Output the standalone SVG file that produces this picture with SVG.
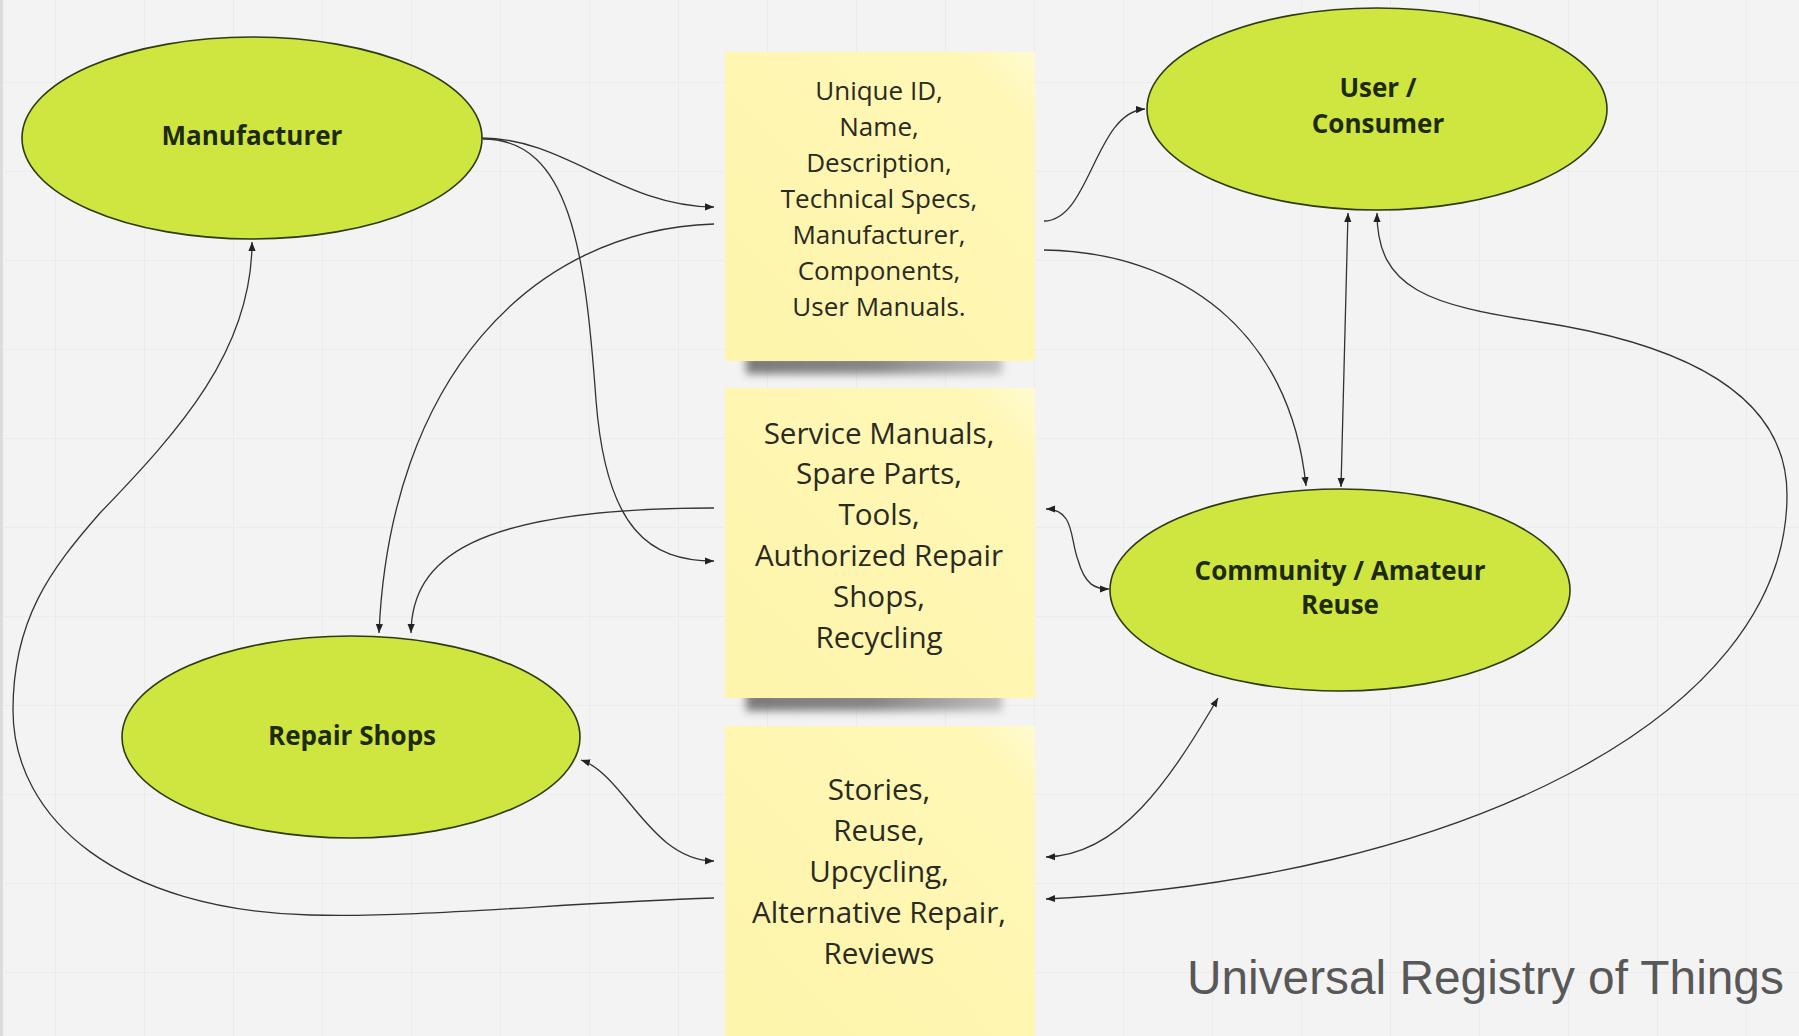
<svg xmlns="http://www.w3.org/2000/svg" width="1799" height="1036" viewBox="0 0 1799 1036">
<defs>
<pattern id="grid" x="55" y="82" width="89" height="89" patternUnits="userSpaceOnUse">
<path d="M0,0 H89 M0,0 V89" fill="none" stroke="#e6e6e6" stroke-width="1.2"/>
</pattern>
<filter id="blur" x="-20%" y="-150%" width="140%" height="400%"><feGaussianBlur stdDeviation="4.5"/></filter>
<linearGradient id="fold" x1="1" y1="0" x2="0" y2="1">
<stop offset="0" stop-color="#fffbd2"/>
<stop offset="0.12" stop-color="#fff7b6"/>
<stop offset="1" stop-color="#fdf5ab"/>
</linearGradient>
<linearGradient id="shade" x1="0" y1="0" x2="1" y2="0">
<stop offset="0" stop-color="#6e6e6e"/>
<stop offset="0.5" stop-color="#7a7a7a"/>
<stop offset="1" stop-color="#b8b8b8"/>
</linearGradient>
<marker id="arr" viewBox="0 0 10 10" refX="10" refY="5" markerWidth="9" markerHeight="9" markerUnits="userSpaceOnUse" orient="auto-start-reverse">
<path d="M0,1 L10,5 L0,9 Z" fill="#222"/>
</marker>
</defs>
<style>
.ell{fill:#cfe640;stroke:#2e3a12;stroke-width:1.6}
.lbl{font-family:"Open Sans","DejaVu Sans",sans-serif;font-weight:bold;font-size:26px;fill:#1e2a0c;text-anchor:middle}
.note{fill:url(#fold)}
.shadow{fill:url(#shade);opacity:0.9;filter:url(#blur)}
.t1{font-family:"Open Sans","DejaVu Sans",sans-serif;font-size:26px;fill:#2a2a22;text-anchor:middle}
.t2{font-family:"Open Sans","DejaVu Sans",sans-serif;font-size:29.6px;fill:#2a2a22;text-anchor:middle}
.c{fill:none;stroke:#333;stroke-width:1.3}
.title{font-family:"Liberation Sans",Arial,sans-serif;font-size:47.8px;fill:#585858}
</style>
<rect width="1799" height="1036" fill="#f3f3f3"/>
<rect width="1799" height="1036" fill="url(#grid)"/>
<rect x="0" y="0" width="3" height="1036" fill="#dcdcdc"/>

<g id="sticky1">
<rect class="shadow" x="746" y="354" width="256" height="20"/>
<rect class="note" x="725" y="52" width="310" height="309"/>
<text class="t1"><tspan x="879" y="100">Unique ID,</tspan><tspan x="879" y="136">Name,</tspan><tspan x="879" y="172">Description,</tspan><tspan x="879" y="208">Technical Specs,</tspan><tspan x="879" y="244">Manufacturer,</tspan><tspan x="879" y="280">Components,</tspan><tspan x="879" y="316">User Manuals.</tspan></text>
</g>
<g id="sticky2">
<rect class="shadow" x="746" y="691" width="256" height="20"/>
<rect class="note" x="725" y="388" width="310" height="310"/>
<text class="t2"><tspan x="879" y="444">Service Manuals,</tspan><tspan x="879" y="484">Spare Parts,</tspan><tspan x="879" y="525">Tools,</tspan><tspan x="879" y="566">Authorized Repair</tspan><tspan x="879" y="607">Shops,</tspan><tspan x="879" y="648">Recycling</tspan></text>
</g>
<g id="sticky3">
<rect class="note" x="725" y="726" width="310" height="312"/>
<text class="t2"><tspan x="879" y="800">Stories,</tspan><tspan x="879" y="841">Reuse,</tspan><tspan x="879" y="882">Upcycling,</tspan><tspan x="879" y="923">Alternative Repair,</tspan><tspan x="879" y="964">Reviews</tspan></text>
</g>

<g id="manufacturer">
<ellipse class="ell" cx="252" cy="138" rx="230" ry="101"/>
<text class="lbl" x="252" y="145">Manufacturer</text>
</g>
<g id="user-consumer">
<ellipse class="ell" cx="1377" cy="109" rx="230" ry="101"/>
<text class="lbl"><tspan x="1378" y="97">User /</tspan><tspan x="1378" y="133">Consumer</tspan></text>
</g>
<g id="community">
<ellipse class="ell" cx="1340" cy="590" rx="230" ry="101"/>
<text class="lbl"><tspan x="1340" y="580">Community / Amateur</tspan><tspan x="1340" y="614">Reuse</tspan></text>
</g>
<g id="repair-shops">
<ellipse class="ell" cx="351" cy="737" rx="229" ry="101"/>
<text class="lbl" x="352" y="745">Repair Shops</text>
</g>

<g id="connectors">
<path class="c" d="M482,138 C565,138 620,206 714,207" marker-end="url(#arr)"/>
<path class="c" d="M483,139 C570,139 585,250 596,400 C606,530 650,561 714,561" marker-end="url(#arr)"/>
<path class="c" d="M714,224 C530,230 390,380 379,633" marker-end="url(#arr)"/>
<path class="c" d="M714,508 C470,508 412,560 411,633" marker-end="url(#arr)"/>
<path class="c" d="M581,760 C625,775 650,860 714,861" marker-start="url(#arr)" marker-end="url(#arr)"/>
<path class="c" d="M714,898 C560,903 420,918 310,915 C120,910 13,820 13,710 C13,620 50,570 100,513 C180,430 252,350 252,242" marker-end="url(#arr)"/>
<path class="c" d="M1044,221 C1090,221 1095,112 1145,109" marker-end="url(#arr)"/>
<path class="c" d="M1044,250 C1180,252 1290,330 1306,486" marker-end="url(#arr)"/>
<path class="c" d="M1348,213 L1341,487" marker-start="url(#arr)" marker-end="url(#arr)"/>
<path class="c" d="M1377,213 C1377,290 1430,305 1540,322 C1650,339 1787,380 1787,495 C1787,720 1450,880 1046,899" marker-start="url(#arr)" marker-end="url(#arr)"/>
<path class="c" d="M1046,857 C1120,855 1170,780 1218,698" marker-start="url(#arr)" marker-end="url(#arr)"/>
<path class="c" d="M1046,509 C1075,509 1070,540 1078,560 C1085,585 1095,589 1109,589" marker-start="url(#arr)" marker-end="url(#arr)"/>
</g>

<text class="title" x="1187" y="994">Universal Registry of Things</text>
</svg>
